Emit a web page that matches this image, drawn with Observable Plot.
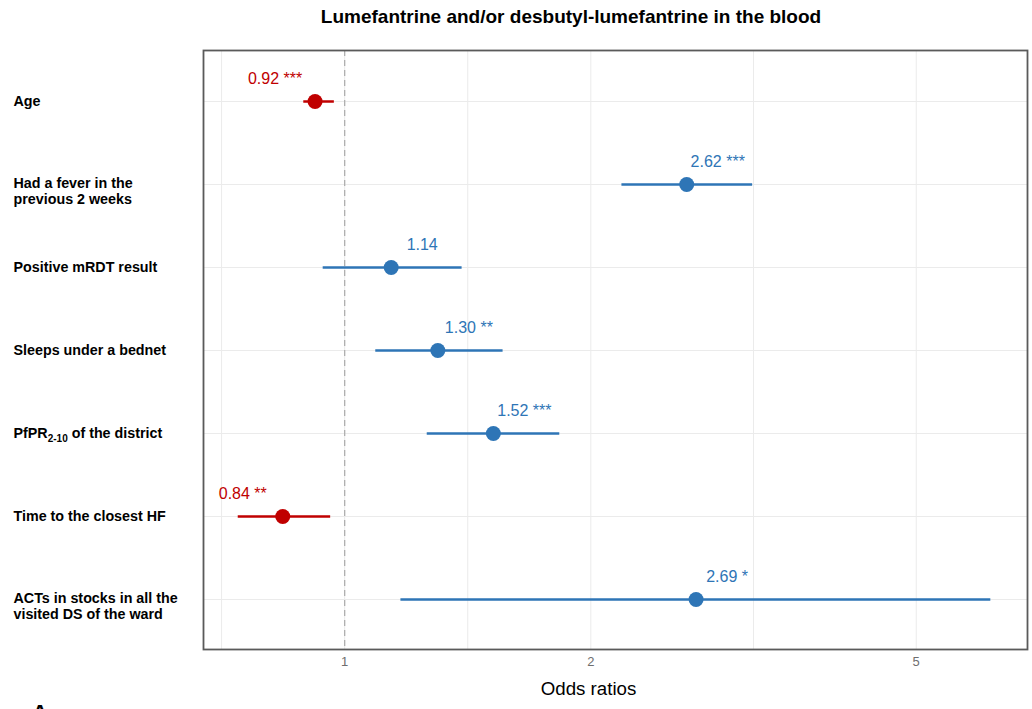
<!DOCTYPE html>
<html>
<head>
<meta charset="utf-8">
<script src="https://cdn.jsdelivr.net/npm/d3@7"></script>
<script src="https://cdn.jsdelivr.net/npm/@observablehq/plot@0.6"></script>
<style>
  html, body { margin: 0; padding: 0; background: #fff; overflow: hidden; }
  body { width: 1032px; height: 709px; position: relative; font-family: "Liberation Sans", Arial, sans-serif; }
  #title { position: absolute; top: 0; left: 571px; transform: translateX(-50%); height: 34px; line-height: 34px; font-size: 19px; font-weight: bold; color: #000; white-space: nowrap; }
  #chart { position: absolute; top: 34px; left: 0; }
  #panel { position: absolute; left: 32px; top: 702px; font-size: 22px; line-height: 22px; font-weight: bold; color: #000; }
</style>
</head>
<body>
<div id="title">Lumefantrine and/or desbutyl-lumefantrine in the blood</div>
<div id="chart"></div>
<div id="panel">A</div>
<script>
// ---- data ----
const variables = [
  "Age",
  "Had a fever in the\nprevious 2 weeks",
  "Positive mRDT result",
  "Sleeps under a bednet",
  "PfPR2-10 of the district",
  "Time to the closest HF",
  "ACTs in stocks in all the\nvisited DS of the ward"
];
const oddsRatios = [0.92, 2.62, 1.14, 1.30, 1.52, 0.84, 2.69];
const ciLow      = [0.89, 2.18, 0.94, 1.09, 1.26, 0.74, 1.17];
const ciHigh     = [0.97, 3.15, 1.39, 1.56, 1.83, 0.96, 6.16];
const significance = ["***", "***", "", "**", "***", "**", "*"];
const xTicks = [0.5, 1, 2, 5, 10];
const xDomain = [0.672, 6.84];

const rows = variables.map((v, i) => ({
  variable: v,
  or: oddsRatios[i],
  lo: ciLow[i],
  hi: ciHigh[i],
  label: oddsRatios[i].toFixed(2) + (significance[i] ? " " + significance[i] : ""),
  direction: oddsRatios[i] < 1 ? "lower" : "higher"
}));

const inDomain = v => v >= xDomain[0] && v <= xDomain[1];
const majorGrid = xTicks.filter(inDomain);
const minorGrid = d3.pairs(xTicks).map(([a, b]) => Math.sqrt(a * b)).filter(inDomain);

const RED = "#C00000", BLUE = "#2E75B6";

const plot = Plot.plot({
  width: 1032,
  height: 675,
  marginTop: 16,
  marginBottom: 60,
  marginLeft: 203,
  marginRight: 5,
  style: { fontFamily: "'Liberation Sans', Arial, sans-serif", background: "#fff" },
  x: { type: "log", domain: xDomain, axis: null },
  y: { type: "point", domain: variables, padding: 0.6, axis: null },
  color: { domain: ["lower", "higher"], range: [RED, BLUE] },
  marks: [
    Plot.ruleX(minorGrid, { stroke: "#ebebeb", strokeWidth: 1 }),
    Plot.ruleX(majorGrid, { stroke: "#ebebeb", strokeWidth: 1 }),
    Plot.ruleY(variables, { y: d => d, stroke: "#ebebeb", strokeWidth: 1 }),
    Plot.ruleX([1], { stroke: "#b0b0b0", strokeWidth: 1.3, strokeDasharray: "6,4" }),
    Plot.link(rows, { x1: "lo", x2: "hi", y1: "variable", y2: "variable", stroke: "direction", strokeWidth: 2.5 }),
    Plot.dot(rows, { x: "or", y: "variable", fill: "direction", r: 7.5 }),
    Plot.text(rows.filter(d => d.direction === "lower"), {
      x: "or", y: "variable", text: "label", fill: "direction",
      fontSize: 16, dx: -40, dy: -23, textAnchor: "middle", lineAnchor: "middle"
    }),
    Plot.text(rows.filter(d => d.direction === "higher"), {
      x: "or", y: "variable", text: "label", fill: "direction",
      fontSize: 16, dx: 31, dy: -23, textAnchor: "middle", lineAnchor: "middle"
    }),
    Plot.frame({ stroke: "#5a5a5a", strokeWidth: 1.8 }),
    // x tick labels
    Plot.text(majorGrid, {
      x: d => d, text: d => String(d), frameAnchor: "bottom", dy: 12,
      fontSize: 13, fill: "#6e6e6e", textAnchor: "middle", lineAnchor: "middle"
    }),
    // y labels, left aligned
    Plot.text(variables.filter(v => !v.includes("\n")), {
      y: d => d, text: d => d, frameAnchor: "left", dx: -190, textAnchor: "start",
      fontSize: 14.3, fontWeight: "bold", fill: "#000", lineAnchor: "middle"
    }),
    Plot.text(variables.filter(v => v.includes("\n")), {
      y: d => d, text: d => d, frameAnchor: "left", dx: -190, dy: 6, textAnchor: "start",
      fontSize: 14.3, fontWeight: "bold", fill: "#000", lineAnchor: "middle", lineHeight: 1.15
    }),
    Plot.text(["Odds ratios"], {
      frameAnchor: "bottom", dx: -27, dy: 45, text: d => d, fontSize: 18.7, fill: "#000", textAnchor: "middle"
    })
  ]
});

// subscript for PfPR2-10
plot.querySelectorAll("text").forEach(t => {
  if (t.textContent === "PfPR2-10 of the district") {
    t.textContent = "";
    const ns = "http://www.w3.org/2000/svg";
    const a = document.createElementNS(ns, "tspan"); a.textContent = "PfPR";
    const b = document.createElementNS(ns, "tspan"); b.textContent = "2-10";
    b.setAttribute("font-size", "10"); b.setAttribute("dy", "4");
    const c = document.createElementNS(ns, "tspan"); c.textContent = " of the district";
    c.setAttribute("dy", "-4");
    t.append(a, b, c);
  }
});

document.getElementById("chart").appendChild(plot);
</script>
</body>
</html>
